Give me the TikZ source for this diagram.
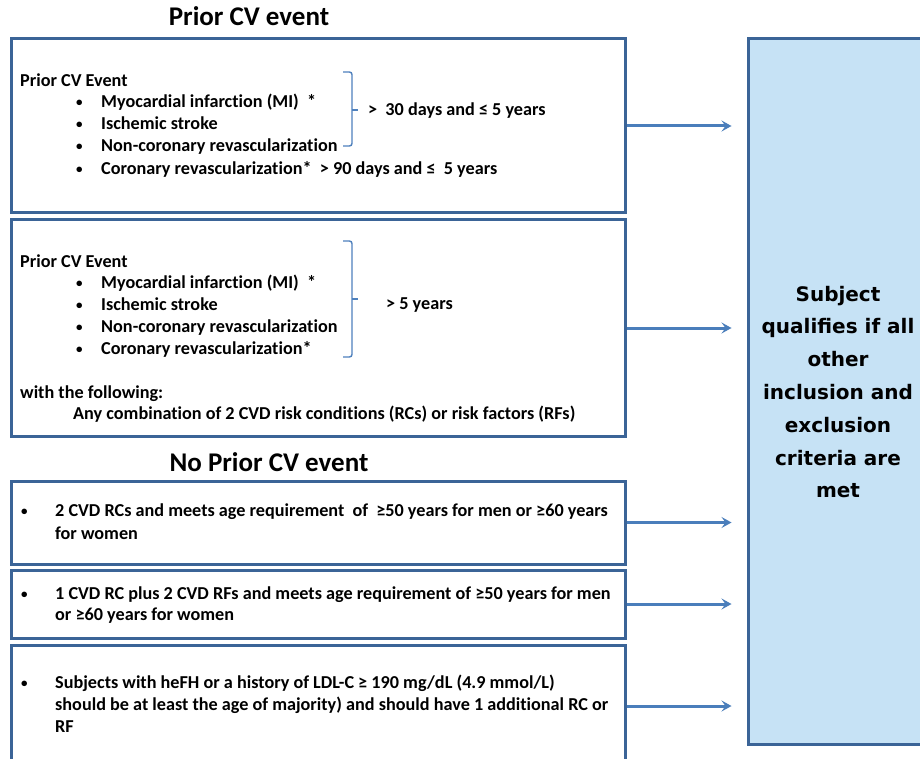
\documentclass[tikz,border=0pt]{standalone}
\usepackage{fontspec}
\setmainfont{Carlito}[Ligatures=NoCommon]
\newfontfamily\dejafont{DejaVu Sans}
\usetikzlibrary{arrows.meta}
\definecolor{boxblue}{RGB}{59,100,151}
\definecolor{arrblue}{RGB}{74,126,187}
\definecolor{brblue}{RGB}{79,129,189}
\definecolor{fillblue}{RGB}{198,226,245}
\begin{document}
\begin{tikzpicture}[x=1pt,y=-1pt,
  box/.style={draw=boxblue, line width=3pt, anchor=north west, inner sep=0pt, minimum width=614pt},
  txt/.style={anchor=base west, inner sep=0pt, font=\bfseries\fontsize{18.2}{21}\selectfont},
  bul/.style={anchor=base west, inner sep=0pt, font=\bfseries\fontsize{13}{15}\selectfont},
  ttl/.style={anchor=base, inner sep=0pt, font=\bfseries\fontsize{27}{31}\selectfont},
  arr/.style={draw=arrblue, line width=3pt, -{Stealth[length=10pt,width=11pt,inset=4pt]}},
  brace/.style={draw=brblue, line width=1.4pt, rounded corners=2.5pt},
  goal/.style={draw=boxblue, fill=fillblue, line width=3pt, anchor=north west, inner sep=0pt, minimum width=185pt, minimum height=705pt}
]
\clip (0,0) rectangle (920,759);
\fill[white] (0,0) rectangle (920,759);

% titles
\node[ttl] (t1) at (249,26) {Prior CV event};
\node[ttl] (t2) at (269,471) {No Prior CV event};

% boxes
\node[box, minimum height=174pt] (b1) at (9.5,37.5) {};
\node[box, minimum height=216pt] (b2) at (9.5,218.5) {};
\node[box, minimum height=83pt] (b3) at (9.5,479.5) {};
\node[box, minimum height=68pt] (b4) at (9.5,568.5) {};
\node[box, minimum height=120pt] (b5) at (9.5,643.5) {};
\node[goal] (rb) at (746.5,37.5) {};

% right box text
\node[align=center, inner sep=0pt, font=\dejafont\bfseries\fontsize{20}{32.8}\selectfont] (rt) at (838,392)
  {Subject\\qualifies if all\\other\\inclusion and\\exclusion\\criteria are\\met};

% box 1 text
\node[txt] (h1) at (20,87) {Prior CV Event};
\node[bul] (p1) at (76,107) {•};
\node[bul] (p2) at (76,129) {•};
\node[bul] (p3) at (76,151) {•};
\node[bul] (p4) at (76,174) {•};
\node[txt] (l1) at (101,108) {Myocardial infarction (MI)\ \ *};
\node[txt] (l2) at (101,130) {Ischemic stroke};
\node[txt] (l3) at (101,152) {Non-coronary revascularization};
\node[txt] (l4) at (101,175) {Coronary revascularization*\ \ > 90 days and ≤\ \ 5 years};
\node[txt] (d1) at (368,116) {>\ \ 30 days and ≤ 5 years};
\draw[brace] (343,72) -- (352,72) -- (352,146) -- (343,146);
\draw[brace] (352,110) -- (358,110);

% box 2 text
\node[txt] (h2) at (20,267) {Prior CV Event};
\node[bul] (q1) at (76,287) {•};
\node[bul] (q2) at (76,309) {•};
\node[bul] (q3) at (76,331) {•};
\node[bul] (q4) at (76,353) {•};
\node[txt] (m1) at (101,288) {Myocardial infarction (MI)\ \ *};
\node[txt] (m2) at (101,310) {Ischemic stroke};
\node[txt] (m3) at (101,332) {Non-coronary revascularization};
\node[txt] (m4) at (101,354) {Coronary revascularization*};
\node[txt] (d2) at (386,309) {> 5 years};
\draw[brace] (343,241) -- (352,241) -- (352,357) -- (343,357);
\draw[brace] (352,299) -- (358,299);
\node[txt] (w1) at (20,398) {with the following:};
\node[txt] (w2) at (73,419) {Any combination of 2 CVD risk conditions (RCs) or risk factors (RFs)};

% box 3 text
\node[bul] (r1) at (21,515) {•};
\node[txt] (s1) at (55,516) {2 CVD RCs and meets age requirement\ \ of\ \ ≥50 years for men or ≥60 years};
\node[txt] (s2) at (55,539) {for women};

% box 4 text
\node[bul] (r2) at (21,598) {•};
\node[txt] (u1) at (55,599) {1 CVD RC plus 2 CVD RFs and meets age requirement of ≥50 years for men};
\node[txt] (u2) at (55,620) {or ≥60 years for women};

% box 5 text
\node[bul] (r3) at (21,687) {•};
\node[txt] (v1) at (55,688) {Subjects with heFH or a history of LDL-C ≥ 190 mg/dL (4.9 mmol/L)};
\node[txt] (v2) at (55,710) {should be at least the age of majority) and should have 1 additional RC or};
\node[txt] (v3) at (55,732) {RF};

% arrows
\draw[arr] (b1.east) -- ([xshift=-15pt]b1.east -| rb.west);
\draw[arr] (b2.east) -- ([xshift=-15pt]b2.east -| rb.west);
\draw[arr] (b3.east) -- ([xshift=-15pt]b3.east -| rb.west);
\draw[arr] (b4.east) -- ([xshift=-15pt]b4.east -| rb.west);
\draw[arr] ([yshift=-1pt]b5.east) -- ([xshift=-15pt,yshift=-1pt]b5.east -| rb.west);
\end{tikzpicture}
\end{document}
